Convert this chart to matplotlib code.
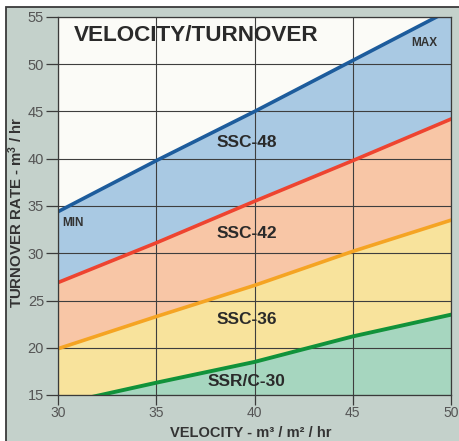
import matplotlib
matplotlib.use("Agg")
import matplotlib.pyplot as plt
from matplotlib.patches import Rectangle
import numpy as np

plt.rcParams['font.family'] = ['Liberation Sans', 'DejaVu Sans']
plt.rcParams['mathtext.fontset'] = 'custom'
plt.rcParams['mathtext.rm'] = 'Liberation Sans:bold'
plt.rcParams['mathtext.bf'] = 'Liberation Sans:bold'
plt.rcParams['mathtext.it'] = 'Liberation Sans:bold'

# Data
velocity = [30, 35, 40, 45, 50]
max_line = [34.4, 39.8, 45.0, 50.4, 55.8]      # SSC-48 upper (MAX)
ssc42_line = [26.9, 31.1, 35.5, 39.8, 44.2]
ssc36_line = [19.9, 23.3, 26.6, 30.2, 33.5]
ssr30_line = [14.0, 16.3, 18.5, 21.2, 23.5]

x_ticks = [30, 35, 40, 45, 50]
y_ticks = [15, 20, 25, 30, 35, 40, 45, 50, 55]
band_labels = ["SSC-48", "SSC-42", "SSC-36", "SSR/C-30"]

W, H = 459, 441
fig = plt.figure(figsize=(W / 100, H / 100), dpi=100)
fig.patch.set_facecolor('white')

# outer frame
fig.add_artist(Rectangle((6 / W, -0.02), 1.0, 1 - 7 / H + 0.02,
                         transform=fig.transFigure, facecolor='#c4d1cb',
                         edgecolor='#3a3a3a', linewidth=1.3, zorder=0))

ax = fig.add_axes([58 / W, 1 - 395 / H, (451 - 58) / W, (395 - 17) / H])
ax.set_xlim(30, 50)
ax.set_ylim(15, 55)
ax.set_facecolor('#fbfbf7')

x = np.array(velocity)
ax.fill_between(x, max_line, 60, color='#fbfbf7', zorder=1)
ax.fill_between(x, ssc42_line, max_line, color='#a9c9e3', zorder=1)
ax.fill_between(x, ssc36_line, ssc42_line, color='#f8c6a6', zorder=1)
ax.fill_between(x, ssr30_line, ssc36_line, color='#f8e39c', zorder=1)
ax.fill_between(x, 10, ssr30_line, color='#a6d6bf', zorder=1)

ax.set_xticks(x_ticks)
ax.set_yticks(y_ticks)
ax.grid(True, color='#3e3e3e', linewidth=0.8, zorder=2)
ax.set_axisbelow(False)

ax.plot(x, max_line, color='#1d5c9c', lw=2.6, zorder=4)
ax.plot(x, ssc42_line, color='#ee4430', lw=2.6, zorder=4)
ax.plot(x, ssc36_line, color='#f5a423', lw=2.6, zorder=4)
ax.plot(x, ssr30_line, color='#11923a', lw=2.8, zorder=4)

for s in ax.spines.values():
    s.set_color('#3a3a3a')
    s.set_linewidth(0.9)
    s.set_zorder(5)

ax.tick_params(axis='both', colors='#3a3a3a', labelcolor='#555555',
               labelsize=10.5, length=9, width=0.9, direction='out')
ax.tick_params(axis='y', pad=1)
ax.tick_params(axis='x', pad=1, length=7, labelsize=10)

ax.text(30.8, 53.0, "VELOCITY/TURNOVER", fontsize=16.2, fontweight='bold',
        color='#2a2a2a', va='center', ha='left', zorder=6)
ax.text(49.3, 52.2, "MAX", fontsize=8.5, fontweight='bold', color='#333333',
        ha='right', va='center', zorder=6)
ax.text(30.2, 33.2, "MIN", fontsize=8.5, fontweight='bold', color='#333333',
        ha='left', va='center', zorder=6)

label_y = [41.7, 32.1, 23.0, 16.4]
for lab, yy in zip(band_labels, label_y):
    ax.text(39.6, yy, lab, fontsize=12.5, fontweight='bold', color='#2a2a2a',
            ha='center', va='center', zorder=6)

fig.text(251 / W, 1 - 437 / H, "VELOCITY - m\u00b3 / m\u00b2 / hr", fontsize=10.5,
         fontweight='bold', color='#333333', ha='center', va='baseline')
fig.text(16 / W, 1 - 212 / H, r"TURNOVER RATE - m$^{3}$ / hr", fontsize=10.8,
         fontweight='bold', color='#333333', ha='center', va='center',
         rotation=90)

fig.savefig("out.png", dpi=100)
